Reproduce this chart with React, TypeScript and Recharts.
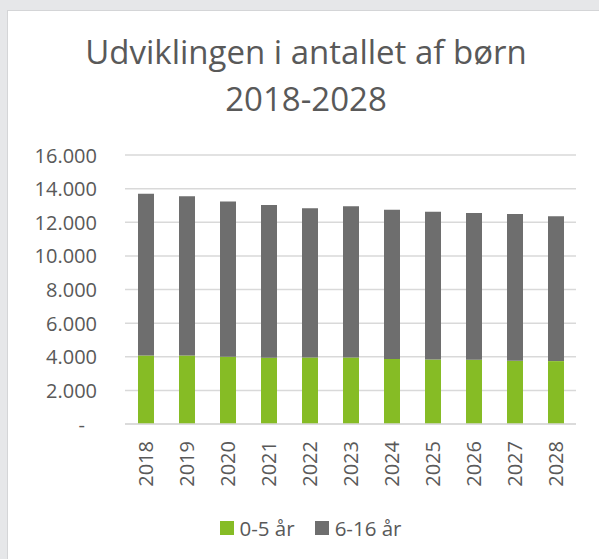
import { BarChart, Bar, XAxis, YAxis, CartesianGrid, Legend } from 'recharts';

const years = ['2018', '2019', '2020', '2021', '2022', '2023', '2024', '2025', '2026', '2027', '2028'];
const age0to5 = [4080, 4080, 4000, 3940, 3960, 3960, 3860, 3840, 3820, 3760, 3740];
const age6to16 = [9620, 9460, 9240, 9080, 8870, 8990, 8890, 8790, 8730, 8730, 8610];
const yTicks = [0, 2000, 4000, 6000, 8000, 10000, 12000, 14000, 16000];

const data = years.map((year, i) => ({ year, a: age0to5[i], b: age6to16[i] }));

const FONT = '"Open Sans", sans-serif';
const INK = '#595959';
const GREEN = '#86BC25';
const GREY = '#6E6E6E';

const fmt = (v: number) => String(v).replace(/\B(?=(\d{3})+(?!\d))/g, '.');

function YTick({ x, y, payload }: any) {
  const zero = payload.value === 0;
  return (
    <text x={zero ? x - 12 : x} y={y} textAnchor="end" dominantBaseline="central"
      fill={INK} fontFamily={FONT} fontSize={20}>
      {zero ? '-' : fmt(payload.value)}
    </text>
  );
}

function XTick({ x, y, payload }: any) {
  return (
    <text x={x} y={y} transform={`rotate(-90 ${x} ${y})`} textAnchor="end" dominantBaseline="central"
      fill={INK} fontFamily={FONT} fontSize={20}>
      {payload.value}
    </text>
  );
}

function LegendContent({ payload }: any) {
  return (
    <div style={{ display: 'flex', justifyContent: 'center', alignItems: 'center', fontFamily: FONT, fontSize: 20.5, color: INK }}>
      {payload.map((p: any, i: number) => (
        <div key={p.value} style={{ display: 'flex', alignItems: 'center', marginLeft: i ? 20 : 0 }}>
          <span style={{ width: 14, height: 14, background: p.color, display: 'inline-block', marginRight: 6 }} />
          <span>{p.value}</span>
        </div>
      ))}
    </div>
  );
}

export default function App() {
  return (
    <div style={{ position: 'fixed', left: 0, top: 0, width: 599, height: 559, background: '#e6e7e9', overflow: 'hidden' }}>
      <div style={{ position: 'absolute', left: 7, top: 10, width: 600, height: 560, background: '#fff', borderLeft: '1px solid #d4d5d7', borderTop: '1px solid #d4d5d7' }} />
      <div style={{ position: 'absolute', left: 0, top: 28, width: 612, textAlign: 'center', fontFamily: FONT, fontSize: 33, lineHeight: '47px', color: INK }}>
        Udviklingen i antallet af børn<br />2018-2028
      </div>
      <div style={{ position: 'absolute', left: 0, top: 0 }}>
        <BarChart width={599} height={559} data={data} margin={{ top: 155, right: 23, bottom: 0, left: 25 }}>
          <CartesianGrid vertical={false} stroke="#d9d9d9" strokeWidth={1.5} />
          <XAxis dataKey="year" axisLine={{ stroke: '#d9d9d9', strokeWidth: 1.5 }} tickLine={false}
            tickSize={6} tickMargin={11} height={105} tick={<XTick />} interval={0} />
          <YAxis width={100} domain={[0, 16000]} ticks={yTicks} axisLine={false} tickLine={false}
            tickSize={6} tickMargin={22} tick={<YTick />} />
          <Legend content={<LegendContent />} wrapperStyle={{ top: 514, left: 11, width: 599, height: 30 }} />
          <Bar dataKey="a" name="0-5 år" stackId="s" fill={GREEN} barSize={16} isAnimationActive={false} />
          <Bar dataKey="b" name="6-16 år" stackId="s" fill={GREY} barSize={16} isAnimationActive={false} />
        </BarChart>
      </div>
    </div>
  );
}
